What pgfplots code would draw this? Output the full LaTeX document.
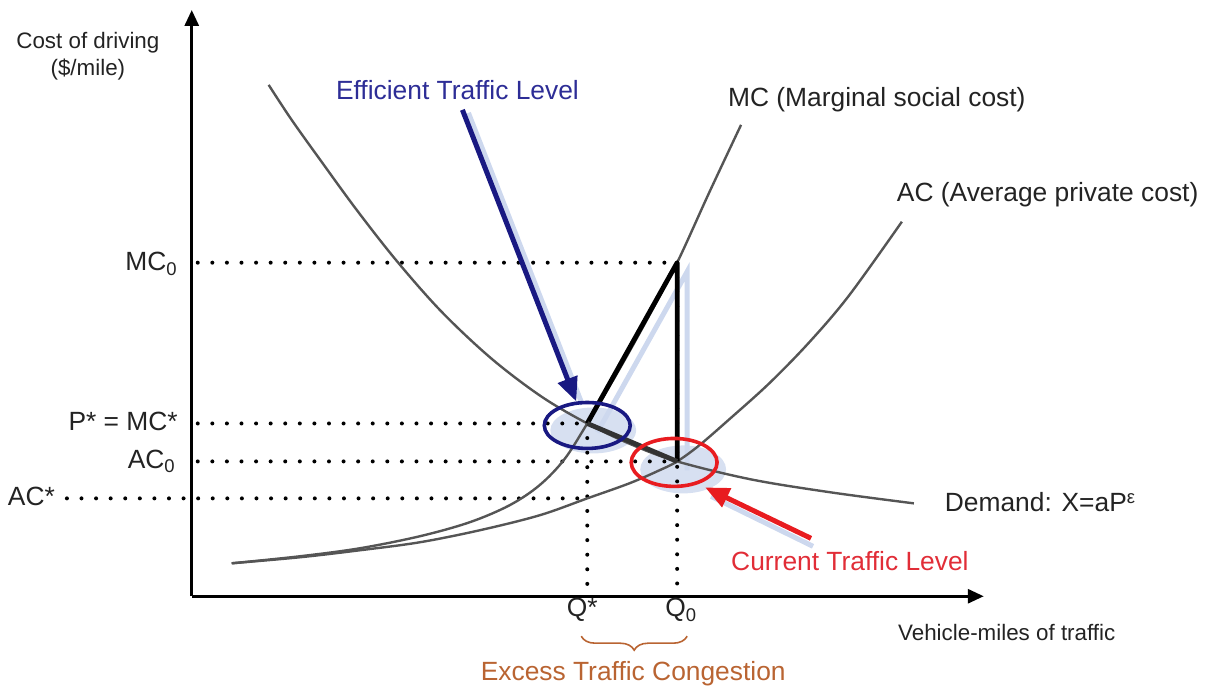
\documentclass[border=0pt]{standalone}
\usepackage{pgfplots}
\pgfplotsset{compat=1.18}
\usepackage{fontspec}
\setmainfont{Liberation Sans}
\usetikzlibrary{arrows.meta,decorations.pathreplacing}
\definecolor{curve}{RGB}{85,85,85}
\definecolor{navy}{RGB}{25,25,130}
\definecolor{navytxt}{RGB}{45,45,150}
\definecolor{redc}{RGB}{232,28,32}
\definecolor{redtxt}{RGB}{225,45,55}
\definecolor{lightblu}{RGB}{205,216,238}
\definecolor{brownc}{RGB}{185,100,50}
\definecolor{txt}{RGB}{35,35,35}
\newcommand{\bigtxt}{\fontsize{13.2}{16}\selectfont}
\newcommand{\smltxt}{\fontsize{11.2}{13.5}\selectfont}

\begin{document}
\begin{tikzpicture}
\begin{axis}[
  x=0.5pt, y=0.5pt,
  xmin=0, xmax=793, ymin=0, ymax=587,
  axis lines=left,
  axis line style={line width=1.5pt, -{Triangle[length=8pt,width=7pt]}},
  ticks=none,
  clip=false,
  every node/.append style={inner sep=1pt},
  dotline/.style={line width=2pt, line cap=round, dash pattern=on 0pt off 7.3pt, black},
  curv/.style={curve, line width=1.2pt, smooth, tension=0.55},
]
% bounding box of the whole picture
\path (axis cs:-192,-94) rectangle (axis cs:1013,597);

% light blue shadows
\fill[lightblu, opacity=0.8] (axis cs:402,166) ellipse [x radius=21.5pt, y radius=11.5pt];
\fill[lightblu, opacity=0.8] (axis cs:492,127) ellipse [x radius=21.5pt, y radius=12pt];
\addplot[lightblu, line width=2.5pt] coordinates {(406,164) (496,325) (496,126)};
\addplot[lightblu, line width=2.5pt] coordinates {(277,484) (391,192)};
\addplot[lightblu, line width=2.5pt] coordinates {(622,50) (520,100)};

% dotted guide lines
\addplot[dotline] coordinates {(6,334) (486,334)};
\addplot[dotline] coordinates {(6,173) (396,173)};
\addplot[dotline] coordinates {(6,135) (486,135)};
\addplot[dotline] coordinates {(-125,98) (396,98)};
\addplot[dotline] coordinates {(396,173) (396,4)};
\addplot[dotline] coordinates {(486,334) (486,4)};

% Demand
\addplot[curv] coordinates {
(77,512) (100,477) (130,435) (165,387) (205,336) (250,285) (300,238)
(350,200) (396,173) (440,152) (486,135) (560,117) (640,104) (723,93)};
% MC
\addplot[curv] coordinates {
(40,33) (108,40) (168,48) (228,60) (278,74) (318,91) (348,111)
(373,137) (396,173) (428,227) (458,281) (486,334) (518,404) (550,472)};
% AC
\addplot[curv] coordinates {
(40,33) (108,39) (168,46) (228,54) (288,66) (348,81) (396,98)
(438,113) (468,126) (486,135) (508,151) (538,177) (578,213)
(618,254) (658,301) (711,375)};

% thick triangle
\addplot[black, line width=2.4pt, line join=round] coordinates {(396,173) (486,334) (486,135)};
\addplot[black!80, line width=2.4pt] coordinates {(396,173) (486,135)};
\addplot[dotline] coordinates {(486,334) (486,135)};

% ellipses
\draw[navy, line width=1.8pt] (axis cs:396,171) ellipse [x radius=21.5pt, y radius=11.5pt];
\draw[redc, line width=1.8pt] (axis cs:483,134) ellipse [x radius=21.5pt, y radius=12pt];

% pointer arrows
\addplot[navy, line width=2.5pt, -{Triangle[length=12pt,width=10pt]}] coordinates {(271,487) (385,195)};
\addplot[redc, line width=2.5pt, -{Triangle[length=12pt,width=10pt]}] coordinates {(620,58) (514,109)};

% texts
\node[txt, align=center, font=\smltxt] at (axis cs:-104,541) {Cost of driving\\(\$/mile)};
\node[navytxt, font=\bigtxt] at (axis cs:266,507) {Efficient Traffic Level};
\node[txt, anchor=west, font=\bigtxt] at (axis cs:530,497) {MC (Marginal social cost)};
\node[txt, anchor=west, font=\bigtxt] at (axis cs:699,402) {AC (Average private cost)};
\node[txt, anchor=west, font=\bigtxt] at (axis cs:747,94) {Demand: X=aP\textsuperscript{ε}};
\node[redtxt, font=\bigtxt] at (axis cs:659,35) {Current Traffic Level};
\node[txt, font=\smltxt] at (axis cs:816,-36) {Vehicle-miles of traffic};
\node[txt, font=\bigtxt] at (axis cs:391,-14) {Q*};
\node[txt, font=\bigtxt] at (axis cs:490,-14) {Q\textsubscript{0}};
\node[txt, anchor=east, font=\bigtxt] at (axis cs:-7,333) {MC\textsubscript{0}};
\node[txt, anchor=east, font=\bigtxt] at (axis cs:-7,175) {P* = MC*};
\node[txt, anchor=east, font=\bigtxt] at (axis cs:-9,135) {AC\textsubscript{0}};
\node[txt, anchor=east, font=\bigtxt] at (axis cs:-130,100) {AC*};
\draw[brownc, line width=0.8pt, decorate, decoration={brace, mirror, amplitude=7pt}]
  (axis cs:390,-40) -- (axis cs:496,-40);
\node[brownc, font=\bigtxt] at (axis cs:442,-78) {Excess Traffic Congestion};
\end{axis}
\end{tikzpicture}
\end{document}
